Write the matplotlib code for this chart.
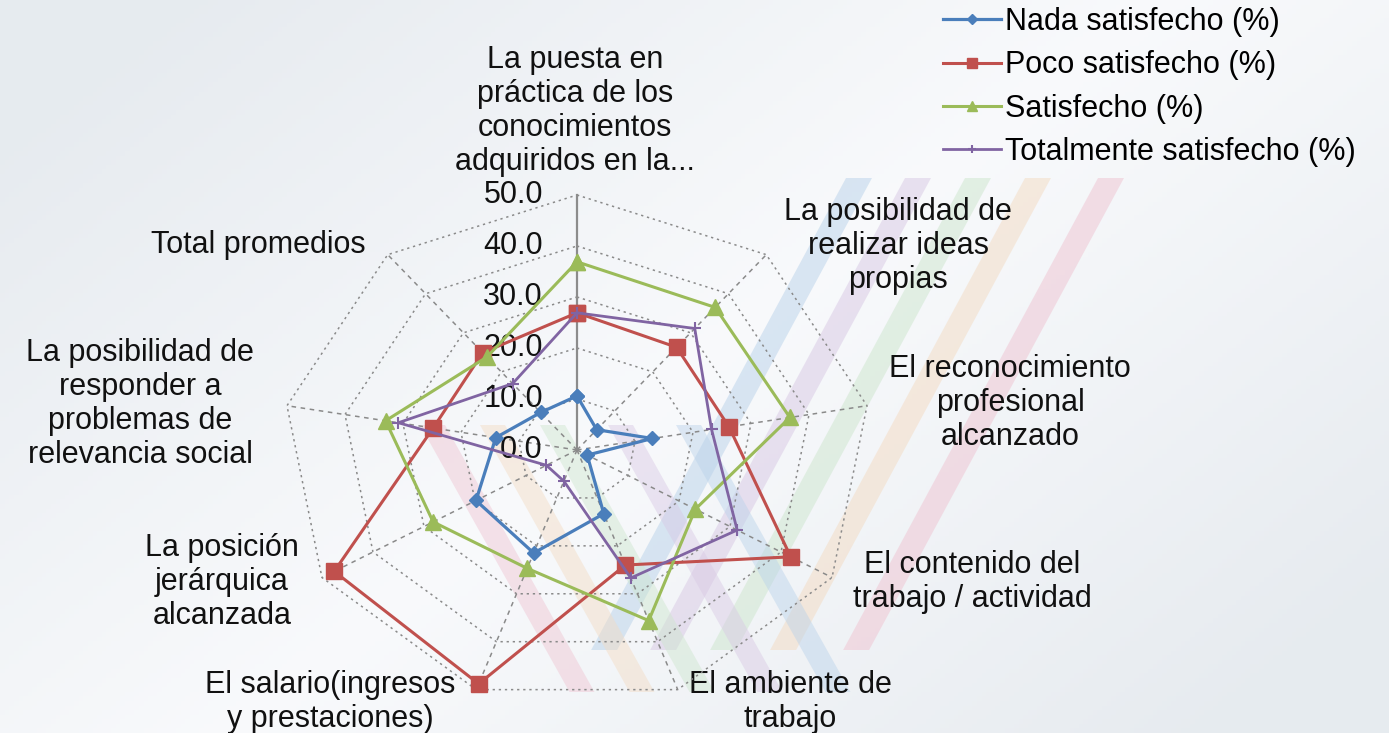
import numpy as np
import matplotlib
matplotlib.use("Agg")
import matplotlib.pyplot as plt
from matplotlib.patches import Polygon

# ---------------- data ----------------
categories = [
    "La puesta en\npráctica de los\nconocimientos\nadquiridos en la...",
    "La posibilidad de\nrealizar ideas\npropias",
    "El reconocimiento\nprofesional\nalcanzado",
    "El contenido del\ntrabajo / actividad",
    "El ambiente de\ntrabajo",
    "El salario(ingresos\ny prestaciones)",
    "La posición\njerárquica\nalcanzada",
    "La posibilidad de\nresponder a\nproblemas de\nrelevancia social",
    "Total promedios",
]
nada = [10.6, 5.2, 13.0, 2.0, 13.3, 21.5, 19.8, 14.0, 9.6]
poco = [26.9, 26.3, 26.2, 41.9, 24.0, 48.8, 47.6, 24.8, 24.9]
satisfecho = [36.9, 36.5, 36.7, 23.2, 35.6, 24.7, 28.2, 33.0, 23.8]
totalmente = [26.9, 31.1, 23.2, 31.4, 26.7, 6.5, 6.0, 30.8, 17.0]
series_names = ["Nada satisfecho (%)", "Poco satisfecho (%)",
                "Satisfecho (%)", "Totalmente satisfecho (%)"]
tick_values = [0, 10, 20, 30, 40, 50]
tick_labels = ["0.0", "10.0", "20.0", "30.0", "40.0", "50.0"]

# ---------------- layout ----------------
W, H = 1389, 733
CX, CY = 577.0, 450.0        # centre in pixels
SX, SY = 5.89, 5.10          # pixels per unit
FS = 22

fig = plt.figure(figsize=(W / 100, H / 100), dpi=100)

# background
bg = fig.add_axes([0, 0, 1, 1], zorder=0)
bg.set_xlim(0, W)
bg.set_ylim(H, 0)
bg.axis("off")
gx = np.linspace(0, 1, 300)
gy = np.linspace(0, 1, 160)
X, Y = np.meshgrid(gx, gy)
G = np.clip(1 - np.abs((X * 0.9 + Y * 0.6) - 0.75) * 1.6, 0, 1)
c_dark = np.array([0.905, 0.922, 0.940])
c_light = np.array([0.975, 0.980, 0.988])
img = c_dark + (c_light - c_dark) * G[..., None]
bg.imshow(img, extent=(0, W, H, 0), aspect="auto", zorder=0)

stripe_cols = ["#b9d2ea", "#d8c8e4", "#cde6cd", "#f3dbc2", "#efc3d1"]
# "/" stripes
for x0, col in zip([846, 905, 965, 1025, 1098], stripe_cols):
    y0, y1 = 178, 650
    d = 0.54 * (y1 - y0)
    bg.add_patch(Polygon([(x0, y0), (x0 + 26, y0), (x0 + 26 - d, y1), (x0 - d, y1)],
                         closed=True, fc=col, ec="none", alpha=0.5, zorder=1))
# "\" stripes
for x0, col in zip([676, 608, 540, 480, 420], stripe_cols):
    y0, y1 = 425, 692
    d = 0.56 * (y1 - y0)
    bg.add_patch(Polygon([(x0, y0), (x0 + 25, y0), (x0 + 25 + d, y1), (x0 + d, y1)],
                         closed=True, fc=col, ec="none", alpha=0.45, zorder=1))

# main axes in value units
ax = fig.add_axes([0, 0, 1, 1], zorder=2)
ax.patch.set_alpha(0)
ax.set_xlim(-CX / SX, (W - CX) / SX)
ax.set_ylim(-(H - CY) / SY, CY / SY)
ax.axis("off")

n = len(categories)
theta = np.deg2rad(90 - 360.0 / n * np.arange(n))
rmax = tick_values[-1]

# rings
for lv in tick_values[1:]:
    xs = np.append(lv * np.cos(theta), lv * np.cos(theta[0]))
    ys = np.append(lv * np.sin(theta), lv * np.sin(theta[0]))
    ax.plot(xs, ys, color="#8a8a8a", lw=1.1, ls=(0, (1.5, 2.5)), zorder=2)
# spokes
for k, t in enumerate(theta):
    if k == 0:
        ax.plot([0, 0], [0, rmax], color="#8c8c8c", lw=1.6, zorder=2)
    else:
        ax.plot([0, rmax * np.cos(t)], [0, rmax * np.sin(t)],
                color="#8a8a8a", lw=1.1, ls=(0, (3, 3)), zorder=2)

# tick labels
for v, lab in zip(tick_values, tick_labels):
    ax.text(-5.8, v, lab, ha="right", va="center", fontsize=FS,
            family="Liberation Sans", color="#111111", zorder=3)

styles = [
    dict(color="#4a7ebb", marker="D", ms=7, lw=2.3),
    dict(color="#c0504d", marker="s", ms=11, lw=2.2),
    dict(color="#9bbb59", marker="^", ms=11, lw=2.2),
    dict(color="#8064a2", marker="+", ms=9, mew=1.5, lw=2.0),
]
handles = []
for vals, name, st in zip([nada, poco, satisfecho, totalmente], series_names, styles):
    v = np.array(vals + vals[:1])
    t = np.append(theta, theta[0])
    h, = ax.plot(v * np.cos(t), v * np.sin(t), label=name, zorder=4, **st)
    handles.append(h)

# category labels (pixel positions)
label_pos = [
    (575, 111), (898, 246), (1010, 403), (972, 582), (790, 702),
    (330, 702), (222, 582), (140, 404), (258, 245),
]
for (px, py), lab in zip(label_pos, categories):
    bg.text(px, py, lab, ha="center", va="center", fontsize=FS,
            family="Liberation Sans", color="#111111", linespacing=1.16, zorder=5)

leg = ax.legend(handles=handles, loc="upper left",
                bbox_to_anchor=(938 / W, 0.997), bbox_transform=fig.transFigure,
                frameon=False, prop=dict(family="Liberation Sans", size=FS),
                handlelength=1.9, handletextpad=0.15, labelspacing=0.44,
                borderaxespad=0.0, borderpad=0.15, markerscale=0.7)

fig.savefig("out.png", dpi=100)
